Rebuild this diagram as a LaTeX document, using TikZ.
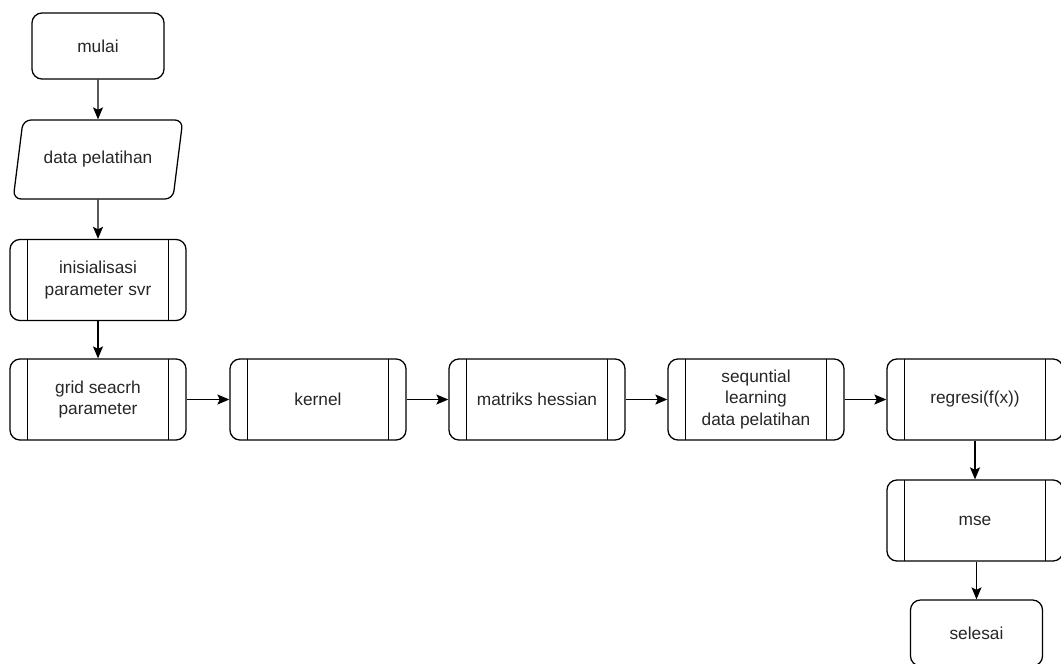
\documentclass[tikz,border=0pt]{standalone}
\usepackage{fontspec}
\setmainfont{Liberation Sans}
\usetikzlibrary{arrows.meta,shapes.geometric}
\tikzset{
	base/.style={draw, line width=0.9pt, align=center, text=black!85, font=\fontsize{12.3}{15.2}\selectfont},
	terminal/.style={base, rectangle, rounded corners=0.25cm, minimum width=3.3cm, minimum height=1.65cm},
	inputdata/.style={base, trapezium, trapezium left angle=73, trapezium right angle=107,
		trapezium stretches=true, rounded corners=0.2cm, minimum width=4.25cm, minimum height=1.975cm},
	subproc/.style={base, rectangle, rounded corners=0.25cm, minimum width=4.4cm, minimum height=2.025cm,
		path picture={
			\draw[line width=0.9pt] ([xshift=0.43cm]path picture bounding box.north west)
				-- ([xshift=0.43cm]path picture bounding box.south west);
			\draw[line width=0.9pt] ([xshift=-0.43cm]path picture bounding box.north east)
				-- ([xshift=-0.43cm]path picture bounding box.south east);
		}},
	flow/.style={line width=0.9pt, -{Stealth[length=0.3cm,width=0.25cm,inset=0.06cm]}}
}
\begin{document}
\begin{tikzpicture}[x=0.025cm, y=-0.025cm]
		\useasboundingbox (0,0) rectangle (1061,664);
		% Left column
		\node[terminal] (mulai) at (98,46) {mulai};
		\node[inputdata] (data) at (98,159.5) {data pelatihan};
		\node[subproc] (init) at (98,280) {inisialisasi\\parameter svr};
		% Main row
		\node[subproc] (grid) at (98,399.5) {grid seacrh\\parameter};
		\node[subproc] (kernel) at (318,399.5) {kernel};
		\node[subproc] (hessian) at (537,399.5) {matriks hessian};
		\node[subproc] (seq) at (756,399.5) {sequntial\\learning\\data pelatihan};
		\node[subproc] (regresi) at (975,399.5) {regresi(f(x))};
		% Right column
		\node[subproc] (mse) at (975,520.5) {mse};
		\node[terminal] (selesai) at (976.5,633) {selesai};
		% Connectors
		\draw[flow] (mulai) -- (data);
		\draw[flow] (data) -- (init);
		\draw[flow] (init) -- (grid);
		\foreach \a/\b in {grid/kernel, kernel/hessian, hessian/seq, seq/regresi} {
			\draw[flow] (\a) -- (\b);
		}
		\draw[flow] (regresi) -- (mse);
		\draw[flow] (mse.south -| selesai) -- (selesai);
\end{tikzpicture}
\end{document}
